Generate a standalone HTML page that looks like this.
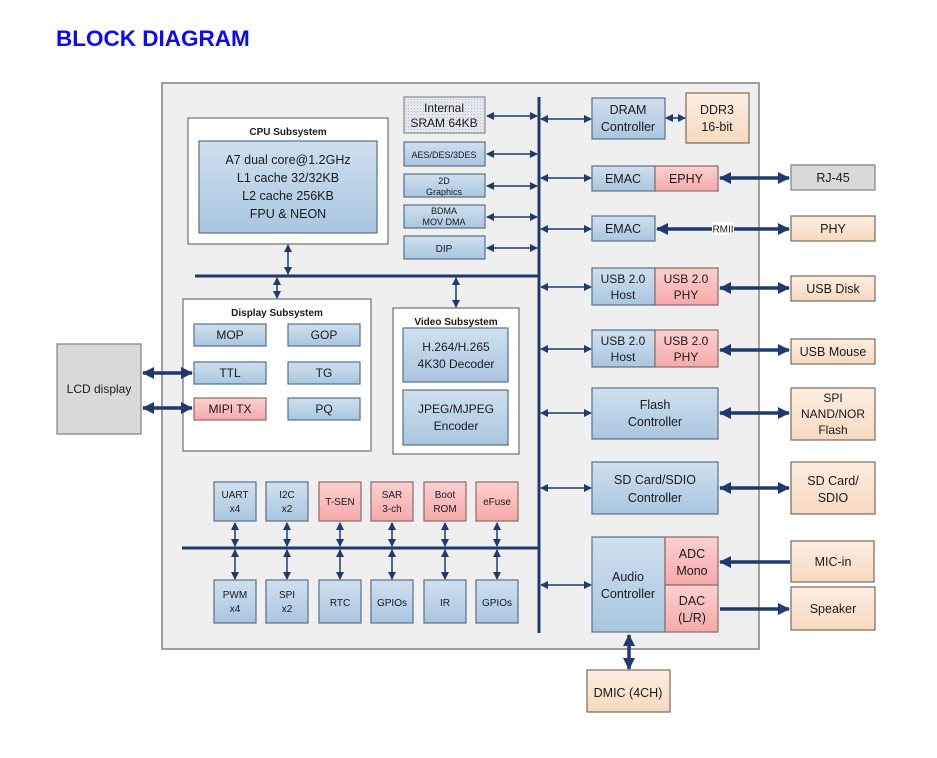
<!DOCTYPE html>
<html><head><meta charset="utf-8"><style>
html,body{margin:0;padding:0;background:#fff}
svg{display:block}
text{font-family:"Liberation Sans",sans-serif;fill:#1a1a1a}
</style></head><body>
<svg width="937" height="758" viewBox="0 0 937 758" xmlns="http://www.w3.org/2000/svg">
<defs>
<linearGradient id="bl" x1="0" y1="0" x2="0" y2="1"><stop offset="0" stop-color="#cfe0ef"/><stop offset="1" stop-color="#a9c6df"/></linearGradient>
<linearGradient id="pk" x1="0" y1="0" x2="0" y2="1"><stop offset="0" stop-color="#fdd0d0"/><stop offset="1" stop-color="#f6a9a9"/></linearGradient>
<linearGradient id="pc" x1="0" y1="0" x2="0" y2="1"><stop offset="0" stop-color="#fdeee2"/><stop offset="1" stop-color="#f6d9bf"/></linearGradient>
<pattern id="dots" width="3" height="3" patternUnits="userSpaceOnUse"><rect width="3" height="3" fill="#e4e8ee"/><rect width="1" height="1" fill="#b8c0cc"/></pattern>
<marker id="a" markerWidth="8" markerHeight="8" refX="7" refY="4" orient="auto-start-reverse" markerUnits="userSpaceOnUse"><path d="M0,0 L8,4 L0,8 Z" fill="#1f3a6e"/></marker>
<marker id="A" markerWidth="12" markerHeight="12" refX="11" refY="6" orient="auto-start-reverse" markerUnits="userSpaceOnUse"><path d="M0,0 L12,6 L0,12 Z" fill="#1f3a6e"/></marker>
</defs>
<text x="56" y="46" font-size="22.5" font-weight="bold" style="fill:#0a0aff">BLOCK DIAGRAM</text>

<rect x="162" y="83" width="597" height="566" fill="#efefef" stroke="#808080" stroke-width="1.5"/>

<g stroke="#1f3a6e" stroke-width="3" fill="none">
<line x1="539" y1="97" x2="539" y2="633"/>
<line x1="195" y1="276" x2="539" y2="276"/>
<line x1="182" y1="548" x2="539" y2="548"/>
</g>

<g stroke="#1f3a6e" stroke-width="1.5" fill="none" marker-start="url(#a)" marker-end="url(#a)">
<line x1="487" y1="116" x2="537" y2="116"/>
<line x1="487" y1="154" x2="537" y2="154"/>
<line x1="487" y1="186" x2="537" y2="186"/>
<line x1="487" y1="217" x2="537" y2="217"/>
<line x1="487" y1="248" x2="537" y2="248"/>
<line x1="288" y1="245" x2="288" y2="274"/>
<line x1="277" y1="278" x2="277" y2="298"/>
<line x1="456" y1="278" x2="456" y2="307"/>
<line x1="541" y1="119" x2="591" y2="119"/>
<line x1="541" y1="178" x2="591" y2="178"/>
<line x1="541" y1="229" x2="591" y2="229"/>
<line x1="541" y1="287" x2="591" y2="287"/>
<line x1="541" y1="349" x2="591" y2="349"/>
<line x1="541" y1="413" x2="591" y2="413"/>
<line x1="541" y1="488" x2="591" y2="488"/>
<line x1="541" y1="585" x2="591" y2="585"/>
<line x1="666" y1="118" x2="685" y2="118"/>
<line x1="235" y1="523" x2="235" y2="546"/><line x1="235" y1="550" x2="235" y2="579"/>
<line x1="287" y1="523" x2="287" y2="546"/><line x1="287" y1="550" x2="287" y2="579"/>
<line x1="340" y1="523" x2="340" y2="546"/><line x1="340" y1="550" x2="340" y2="579"/>
<line x1="392" y1="523" x2="392" y2="546"/><line x1="392" y1="550" x2="392" y2="579"/>
<line x1="445" y1="523" x2="445" y2="546"/><line x1="445" y1="550" x2="445" y2="579"/>
<line x1="497" y1="523" x2="497" y2="546"/><line x1="497" y1="550" x2="497" y2="579"/>
</g>
<g stroke="#1f3a6e" stroke-width="3.5" fill="none">
<line x1="720" y1="178" x2="789" y2="178" marker-start="url(#A)" marker-end="url(#A)"/>
<line x1="657" y1="229" x2="789" y2="229" marker-start="url(#A)" marker-end="url(#A)"/>
<line x1="720" y1="288" x2="789" y2="288" marker-start="url(#A)" marker-end="url(#A)"/>
<line x1="720" y1="350" x2="789" y2="350" marker-start="url(#A)" marker-end="url(#A)"/>
<line x1="720" y1="413" x2="789" y2="413" marker-start="url(#A)" marker-end="url(#A)"/>
<line x1="720" y1="488" x2="789" y2="488" marker-start="url(#A)" marker-end="url(#A)"/>
<line x1="790" y1="562" x2="720" y2="562" marker-end="url(#A)"/>
<line x1="720" y1="609" x2="789" y2="609" marker-end="url(#A)"/>
<line x1="629" y1="635" x2="629" y2="669" marker-start="url(#A)" marker-end="url(#A)"/>
</g>
<rect x="712" y="222" width="22" height="13" fill="#fff"/>
<text x="723" y="232.5" font-size="10" text-anchor="middle">RMII</text>

<g stroke="#5b6e85" stroke-width="1.2">
<rect x="404" y="97" width="81" height="36" fill="url(#dots)" stroke="#8a8a8a"/>
<rect x="404" y="142" width="81" height="24" fill="url(#bl)"/>
<rect x="404" y="174" width="81" height="23" fill="url(#bl)"/>
<rect x="404" y="205" width="81" height="23" fill="url(#bl)"/>
<rect x="404" y="236" width="81" height="23" fill="url(#bl)"/>
<rect x="188" y="118" width="200" height="126" fill="#fff" stroke="#707070"/>
<rect x="199" y="141" width="178" height="92" fill="url(#bl)"/>
<rect x="183" y="299" width="188" height="152" fill="#fff" stroke="#707070"/>
<rect x="194" y="324" width="72" height="22" fill="url(#bl)"/>
<rect x="288" y="324" width="72" height="22" fill="url(#bl)"/>
<rect x="194" y="362" width="72" height="22" fill="url(#bl)"/>
<rect x="288" y="362" width="72" height="22" fill="url(#bl)"/>
<rect x="194" y="398" width="72" height="22" fill="url(#pk)" stroke="#8a6a6a"/>
<rect x="288" y="398" width="72" height="22" fill="url(#bl)"/>
<rect x="393" y="308" width="126" height="146" fill="#fff" stroke="#707070"/>
<rect x="403" y="328" width="105" height="54" fill="url(#bl)"/>
<rect x="403" y="390" width="105" height="55" fill="url(#bl)"/>
<rect x="57" y="344" width="84" height="90" fill="#d9d9d9" stroke="#808080"/>
<rect x="214" y="482" width="42" height="39" fill="url(#bl)"/>
<rect x="266" y="482" width="42" height="39" fill="url(#bl)"/>
<rect x="319" y="482" width="42" height="39" fill="url(#pk)" stroke="#8a6a6a"/>
<rect x="371" y="482" width="42" height="39" fill="url(#pk)" stroke="#8a6a6a"/>
<rect x="424" y="482" width="42" height="39" fill="url(#pk)" stroke="#8a6a6a"/>
<rect x="476" y="482" width="42" height="39" fill="url(#pk)" stroke="#8a6a6a"/>
<rect x="214" y="580" width="42" height="43" fill="url(#bl)"/>
<rect x="266" y="580" width="42" height="43" fill="url(#bl)"/>
<rect x="319" y="580" width="42" height="43" fill="url(#bl)"/>
<rect x="371" y="580" width="42" height="43" fill="url(#bl)"/>
<rect x="424" y="580" width="42" height="43" fill="url(#bl)"/>
<rect x="476" y="580" width="42" height="43" fill="url(#bl)"/>
<rect x="592" y="98" width="73" height="41" fill="url(#bl)"/>
<rect x="686" y="93" width="63" height="50" fill="url(#pc)" stroke="#7a6a5a"/>
<rect x="592" y="166" width="63" height="25" fill="url(#bl)"/>
<rect x="655" y="166" width="63" height="25" fill="url(#pk)" stroke="#8a6a6a"/>
<rect x="592" y="216" width="63" height="25" fill="url(#bl)"/>
<rect x="592" y="268" width="63" height="37" fill="url(#bl)"/>
<rect x="655" y="268" width="63" height="37" fill="url(#pk)" stroke="#8a6a6a"/>
<rect x="592" y="330" width="63" height="37" fill="url(#bl)"/>
<rect x="655" y="330" width="63" height="37" fill="url(#pk)" stroke="#8a6a6a"/>
<rect x="592" y="388" width="126" height="51" fill="url(#bl)"/>
<rect x="592" y="462" width="126" height="52" fill="url(#bl)"/>
<rect x="592" y="537" width="73" height="95" fill="url(#bl)"/>
<rect x="665" y="537" width="53" height="48" fill="url(#pk)" stroke="#8a6a6a"/>
<rect x="665" y="585" width="53" height="47" fill="url(#pk)" stroke="#8a6a6a"/>
<rect x="791" y="165" width="84" height="25" fill="#d9d9d9" stroke="#808080"/>
<rect x="791" y="216" width="84" height="25" fill="url(#pc)" stroke="#7a6a5a"/>
<rect x="791" y="276" width="84" height="25" fill="url(#pc)" stroke="#7a6a5a"/>
<rect x="791" y="339" width="84" height="25" fill="url(#pc)" stroke="#7a6a5a"/>
<rect x="791" y="388" width="84" height="52" fill="url(#pc)" stroke="#7a6a5a"/>
<rect x="791" y="462" width="84" height="52" fill="url(#pc)" stroke="#7a6a5a"/>
<rect x="791" y="541" width="83" height="41" fill="url(#pc)" stroke="#7a6a5a"/>
<rect x="791" y="587" width="84" height="43" fill="url(#pc)" stroke="#7a6a5a"/>
<rect x="587" y="670" width="83" height="42" fill="url(#pc)" stroke="#7a6a5a"/>
</g>

<g stroke="#1f3a6e" stroke-width="3.5" fill="none">
<line x1="143" y1="373" x2="192" y2="373" marker-start="url(#A)" marker-end="url(#A)"/>
<line x1="143" y1="408" x2="192" y2="408" marker-start="url(#A)" marker-end="url(#A)"/>
</g>

<g text-anchor="middle">
<text x="444" y="112" font-size="12">Internal</text>
<text x="444" y="127" font-size="12">SRAM 64KB</text>
<text x="444" y="158" font-size="9">AES/DES/3DES</text>
<text x="444" y="184" font-size="9">2D</text>
<text x="444" y="195" font-size="9">Graphics</text>
<text x="444" y="214" font-size="9">BDMA</text>
<text x="444" y="225" font-size="9">MOV DMA</text>
<text x="444" y="252" font-size="10">DIP</text>
<text x="288" y="135" font-size="10" font-weight="bold">CPU Subsystem</text>
<text x="288" y="164" font-size="12.5">A7 dual core@1.2GHz</text>
<text x="288" y="182" font-size="12.5">L1 cache 32/32KB</text>
<text x="288" y="200" font-size="12.5">L2 cache 256KB</text>
<text x="288" y="218" font-size="12.5">FPU &amp; NEON</text>
<text x="277" y="316" font-size="10" font-weight="bold">Display Subsystem</text>
<text x="230" y="339" font-size="12">MOP</text>
<text x="324" y="339" font-size="12">GOP</text>
<text x="230" y="377" font-size="12">TTL</text>
<text x="324" y="377" font-size="12">TG</text>
<text x="230" y="413" font-size="12">MIPI TX</text>
<text x="324" y="413" font-size="12">PQ</text>
<text x="456" y="325" font-size="10" font-weight="bold">Video Subsystem</text>
<text x="456" y="351" font-size="12">H.264/H.265</text>
<text x="456" y="368" font-size="12">4K30 Decoder</text>
<text x="456" y="413" font-size="12">JPEG/MJPEG</text>
<text x="456" y="430" font-size="12">Encoder</text>
<text x="99" y="393" font-size="12">LCD display</text>
<text x="235" y="498" font-size="10">UART</text><text x="235" y="512" font-size="10">x4</text>
<text x="287" y="498" font-size="10">I2C</text><text x="287" y="512" font-size="10">x2</text>
<text x="340" y="505" font-size="10">T-SEN</text>
<text x="392" y="498" font-size="10">SAR</text><text x="392" y="512" font-size="10">3-ch</text>
<text x="445" y="498" font-size="10">Boot</text><text x="445" y="512" font-size="10">ROM</text>
<text x="497" y="505" font-size="10">eFuse</text>
<text x="235" y="598" font-size="10">PWM</text><text x="235" y="612" font-size="10">x4</text>
<text x="287" y="598" font-size="10">SPI</text><text x="287" y="612" font-size="10">x2</text>
<text x="340" y="606" font-size="10">RTC</text>
<text x="392" y="606" font-size="10">GPIOs</text>
<text x="445" y="606" font-size="10">IR</text>
<text x="497" y="606" font-size="10">GPIOs</text>
<text x="628" y="114" font-size="12.5">DRAM</text><text x="628" y="131" font-size="12.5">Controller</text>
<text x="717" y="114" font-size="12.5">DDR3</text><text x="717" y="131" font-size="12.5">16-bit</text>
<text x="623" y="183" font-size="12.5">EMAC</text>
<text x="686" y="183" font-size="12.5">EPHY</text>
<text x="623" y="233" font-size="12.5">EMAC</text>
<text x="623" y="283" font-size="12">USB 2.0</text><text x="623" y="299" font-size="12">Host</text>
<text x="686" y="283" font-size="12">USB 2.0</text><text x="686" y="299" font-size="12">PHY</text>
<text x="623" y="345" font-size="12">USB 2.0</text><text x="623" y="361" font-size="12">Host</text>
<text x="686" y="345" font-size="12">USB 2.0</text><text x="686" y="361" font-size="12">PHY</text>
<text x="655" y="409" font-size="12.5">Flash</text><text x="655" y="426" font-size="12.5">Controller</text>
<text x="655" y="484" font-size="12.5">SD Card/SDIO</text><text x="655" y="502" font-size="12.5">Controller</text>
<text x="628" y="581" font-size="12.5">Audio</text><text x="628" y="598" font-size="12.5">Controller</text>
<text x="692" y="558" font-size="12.5">ADC</text><text x="692" y="575" font-size="12.5">Mono</text>
<text x="692" y="605" font-size="12.5">DAC</text><text x="692" y="622" font-size="12.5">(L/R)</text>
<text x="833" y="182" font-size="12.5">RJ-45</text>
<text x="833" y="233" font-size="12.5">PHY</text>
<text x="833" y="293" font-size="12.5">USB Disk</text>
<text x="833" y="356" font-size="12.5">USB Mouse</text>
<text x="833" y="402" font-size="12">SPI</text><text x="833" y="418" font-size="12">NAND/NOR</text><text x="833" y="434" font-size="12">Flash</text>
<text x="833" y="485" font-size="12.5">SD Card/</text><text x="833" y="502" font-size="12.5">SDIO</text>
<text x="833" y="566" font-size="12.5">MIC-in</text>
<text x="833" y="613" font-size="12.5">Speaker</text>
<text x="628" y="697" font-size="12.5">DMIC (4CH)</text>
</g>
</svg>
</body></html>
